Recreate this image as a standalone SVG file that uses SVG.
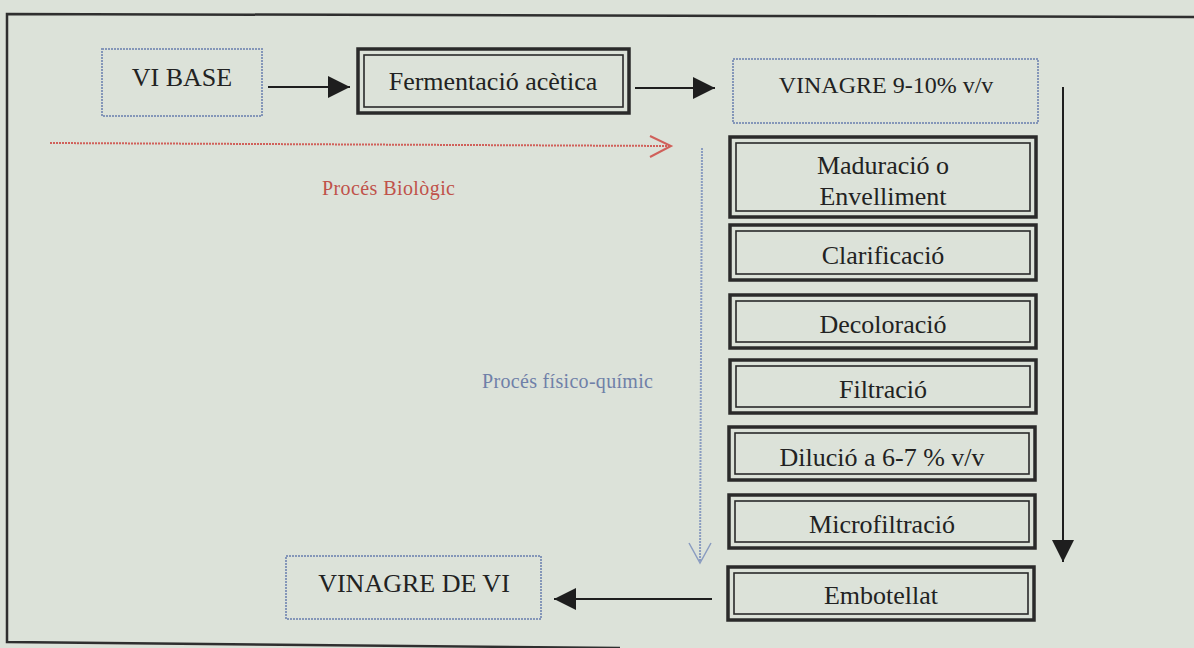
<svg xmlns="http://www.w3.org/2000/svg" width="1194" height="648" viewBox="0 0 1194 648">
<defs>
<style>
.bg{fill:#dce2d9}
.frame{fill:none;stroke:#2f2f2f;stroke-width:2.5}
.dot{fill:none;stroke:#8496b8;stroke-width:2;stroke-dasharray:2 1}
.outer{fill:none;stroke:#2a2a2a;stroke-width:3.5}
.inner{fill:none;stroke:#2a2a2a;stroke-width:1.6}
.t{font-family:"Liberation Serif","Times New Roman",serif;font-size:26px;fill:#222;text-anchor:middle}
.lbl{font-family:"Liberation Serif","Times New Roman",serif;font-size:20px}
.conn{stroke:#1e1e1e;stroke-width:2;fill:none}
</style>
<marker id="ah" markerUnits="userSpaceOnUse" markerWidth="24" markerHeight="22" refX="22" refY="11" orient="auto">
<path d="M0,0 L22,11 L0,22 Z" fill="#1e1e1e"/>
</marker>
</defs>
<rect class="bg" x="0" y="0" width="1194" height="648"/>
<polyline class="frame" points="1194,17 7,14 7,642 620,648"/>

<g id="vi-base">
<rect class="dot" x="102" y="49" width="160" height="67"/>
<text class="t" x="182" y="86">VI BASE</text>
</g>
<g id="fermentacio">
<rect class="outer" x="358" y="49" width="271" height="64"/>
<rect class="inner" x="364" y="55" width="259" height="52"/>
<text class="t" x="493" y="90">Fermentació acètica</text>
</g>
<g id="vinagre-9-10">
<rect class="dot" x="733" y="59" width="305" height="64"/>
<text class="t" x="886" y="93" style="font-size:24px">VINAGRE 9-10% v/v</text>
</g>
<g id="maduracio">
<rect class="outer" x="730" y="137" width="306" height="80"/>
<rect class="inner" x="736" y="143" width="294" height="68"/>
<text class="t" x="883" y="174">Maduració o</text>
<text class="t" x="883" y="205">Envelliment</text>
</g>
<g id="clarificacio">
<rect class="outer" x="730" y="225" width="306" height="55"/>
<rect class="inner" x="736" y="231" width="294" height="43"/>
<text class="t" x="883" y="264">Clarificació</text>
</g>
<g id="decoloracio">
<rect class="outer" x="730" y="295" width="306" height="53"/>
<rect class="inner" x="736" y="301" width="294" height="41"/>
<text class="t" x="883" y="333">Decoloració</text>
</g>
<g id="filtracio">
<rect class="outer" x="730" y="360" width="306" height="53"/>
<rect class="inner" x="736" y="366" width="294" height="41"/>
<text class="t" x="883" y="398">Filtració</text>
</g>
<g id="dilucio">
<rect class="outer" x="729" y="427" width="306" height="53"/>
<rect class="inner" x="735" y="433" width="294" height="41"/>
<text class="t" x="882" y="466">Dilució a 6-7 % v/v</text>
</g>
<g id="microfiltracio">
<rect class="outer" x="729" y="495" width="306" height="53"/>
<rect class="inner" x="735" y="501" width="294" height="41"/>
<text class="t" x="882" y="533">Microfiltració</text>
</g>
<g id="embotellat">
<rect class="outer" x="728" y="567" width="306" height="53"/>
<rect class="inner" x="734" y="573" width="294" height="41"/>
<text class="t" x="881" y="604">Embotellat</text>
</g>
<g id="vinagre-de-vi">
<rect class="dot" x="286" y="556" width="255" height="63"/>
<text class="t" x="414" y="592">VINAGRE DE VI</text>
</g>

<g id="connectors">
<line class="conn" x1="268" y1="87" x2="350" y2="87" marker-end="url(#ah)"/>
<line class="conn" x1="635" y1="88" x2="715" y2="88" marker-end="url(#ah)"/>
<line class="conn" x1="1063" y1="87" x2="1063" y2="562" marker-end="url(#ah)"/>
<line class="conn" x1="712" y1="599" x2="554" y2="599" marker-end="url(#ah)"/>
<line x1="50" y1="143" x2="670" y2="146" stroke="#d0605a" stroke-width="2" stroke-dasharray="2 1"/>
<polyline points="650,136 671,146 650,157" fill="none" stroke="#d0605a" stroke-width="2"/>
<line x1="702" y1="148" x2="700" y2="562" stroke="#8a9cc0" stroke-width="2" stroke-dasharray="2 1"/>
<polyline points="689,543 700,563 711,543" fill="none" stroke="#8a9cc0" stroke-width="1.5"/>
</g>

<g id="labels">
<text class="lbl" x="322" y="195" fill="#c0524a" textLength="133" lengthAdjust="spacing">Procés Biològic</text>
<text class="lbl" x="482" y="388" fill="#6f80a8" textLength="171" lengthAdjust="spacing">Procés físico-químic</text>
</g>
</svg>
